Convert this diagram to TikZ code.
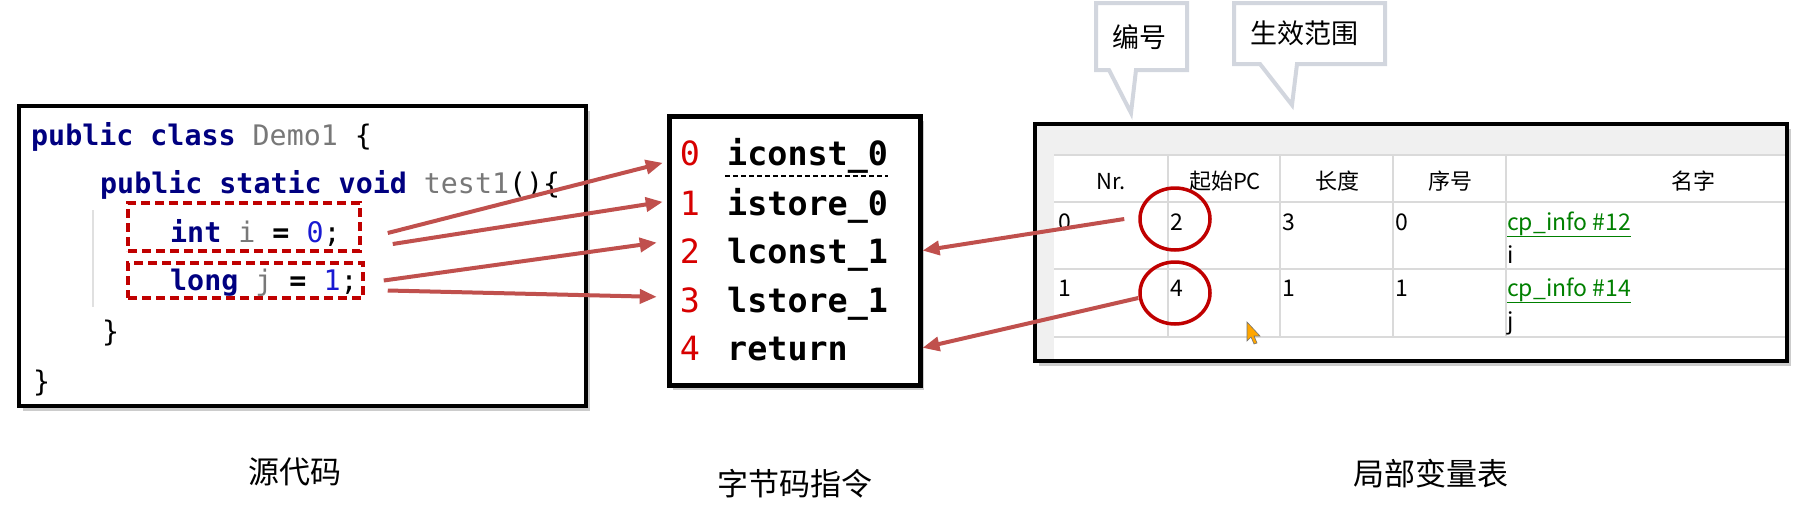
\documentclass[tikz,border=0pt]{standalone}
\usepackage{fontspec}
\setmainfont{Noto Sans CJK SC}
\newfontfamily\codefont{DejaVu Sans Mono}
\usepackage{xcolor}
\usepackage{tikz}
\usetikzlibrary{arrows.meta, calc, positioning, shapes.geometric, shadows}

\definecolor{kwblue}{RGB}{0,0,128}
\definecolor{idgray}{RGB}{120,120,120}
\definecolor{numblue}{RGB}{25,25,210}
\definecolor{opred}{RGB}{215,0,0}
\definecolor{boxred}{RGB}{192,0,0}
\definecolor{arrowred}{RGB}{192,80,77}
\definecolor{tipgray}{RGB}{210,214,222}
\definecolor{gridgray}{RGB}{218,218,218}
\definecolor{panegray}{RGB}{240,240,240}
\definecolor{linkgreen}{RGB}{0,128,0}

\newcommand{\javakw}[1]{{\bfseries\color{kwblue}#1}}

\tikzset{%
    edge/.style={%
        -{Triangle[length=17pt,width=14pt]},
        draw=arrowred,
        line width=4pt,
    },
    panel/.style={%
        rectangle,
        draw=black,
        fill=white,
        line width=3.5pt,
        inner sep=0pt,
        drop shadow={shadow xshift=4pt, shadow yshift=-5pt, opacity=.4},
    },
    codeline/.style={%
        anchor=base west,
        inner sep=0pt,
        font=\codefont\fontsize{28.3}{34}\selectfont,
    },
    declbox/.style={%
        rectangle,
        draw=boxred,
        line width=3.5pt,
        dash pattern=on 9pt off 5pt,
        inner sep=0pt,
    },
    opidx/.style={%
        anchor=base,
        inner sep=0pt,
        text=opred,
        font=\codefont\fontsize{33.4}{40}\selectfont,
    },
    opname/.style={%
        anchor=base west,
        inner sep=0pt,
        font=\codefont\bfseries\fontsize{33.4}{40}\selectfont,
    },
    hint/.style={%
        draw=black,
        line width=1.5pt,
        dash pattern=on 5pt off 3pt,
    },
    cell/.style={%
        anchor=base west,
        inner sep=0pt,
        font=\fontsize{23}{27}\selectfont,
    },
    headcell/.style={%
        anchor=base,
        inner sep=0pt,
        font=\fontsize{22}{26}\selectfont,
    },
    gridline/.style={%
        draw=gridgray,
        line width=1.5pt,
    },
    ring/.style={%
        ellipse,
        draw=boxred,
        line width=3.5pt,
        minimum width=70pt,
        minimum height=62pt,
        inner sep=0pt,
    },
    tip/.style={%
        draw=tipgray,
        fill=white,
        line width=4pt,
        line join=miter,
    },
    caption/.style={%
        font=\fontsize{31}{36}\selectfont,
    },
}

\begin{document}
\begin{tikzpicture}[x=1pt, y=-1pt]
	% \draw[help lines] (0, 0) grid (1793, 506);
	\useasboundingbox (0,0) rectangle (1793,506);

	% source code
	\node [panel, minimum width=567pt, minimum height=300pt] at (302.5,256) (src) {};
	\draw [draw=black!12, line width=1.5pt] (93,210) -- (93,307);
	\node [codeline] at (31,145) (src_l1) {\javakw{public class} {\color{idgray}Demo1} \{};
	\node [codeline] at (100,193) (src_l2) {\javakw{public static void} {\color{idgray}test1}()\{};
	\node [codeline] at (170,242) (src_l3) {\javakw{int} {\color{idgray}i} \textbf{=} {\color{numblue}0};};
	\node [codeline] at (170,290) (src_l4) {\javakw{long} {\color{idgray}j} \textbf{=} {\color{numblue}1};};
	\node [codeline] at (102,341) (src_l5) {\}};
	\node [codeline] at (33,391) (src_l6) {\}};
	\node [declbox, minimum width=232pt, minimum height=48pt] at (244,227) (decl_i) {};
	\node [declbox, minimum width=235pt, minimum height=35pt] at (245.5,280.5) (decl_j) {};

	% bytecode
	\node [panel, line width=5pt, minimum width=251pt, minimum height=269pt] at (794.5,250.5) (bc) {};
	\node [opidx] at (690,165) (idx0) {0};
	\node [opidx] at (690,215) (idx1) {1};
	\node [opidx] at (690,263) (idx2) {2};
	\node [opidx] at (690,312) (idx3) {3};
	\node [opidx] at (690,360) (idx4) {4};
	\node [opname] at (727,165) (ins0) {iconst\_0};
	\node [opname] at (727,215) (ins1) {istore\_0};
	\node [opname] at (727,263) (ins2) {lconst\_1};
	\node [opname] at (727,312) (ins3) {lstore\_1};
	\node [opname] at (727,360) (ins4) {return};
	\draw [hint] ($(ins0.base west)+(-2,11)$) -- ($(ins0.base east)+(0,11)$);

	% local variable table
	\node [panel, fill=panegray, minimum width=752pt, minimum height=237pt] at (1411,242.5) (tbl) {};
	\fill [white] (1054,155) rectangle (1785,359);
	\draw [gridline] (1054,155) -- (1785,155);
	\draw [gridline] (1054,202) -- (1785,202);
	\draw [gridline] (1054,269) -- (1785,269);
	\draw [gridline] (1054,337) -- (1785,337);
	\draw [gridline] (1168,155) -- (1168,337);
	\draw [gridline] (1280,155) -- (1280,337);
	\draw [gridline] (1393,155) -- (1393,337);
	\draw [gridline] (1506,155) -- (1506,337);

	\node [headcell] at (1111,189) (h_nr) {Nr.};
	\node [headcell] at (1225,189) (h_pc) {起始PC};
	\node [headcell] at (1337,189) (h_len) {长度};
	\node [headcell] at (1450,189) (h_idx) {序号};
	\node [headcell] at (1693,189) (h_name) {名字};

	\node [cell] at (1058,230) (r1_nr) {0};
	\node [cell] at (1170,230) (r1_pc) {2};
	\node [cell] at (1282,230) (r1_len) {3};
	\node [cell] at (1395,230) (r1_idx) {0};
	\node [cell, text=linkgreen] at (1507,230) (r1_name) {\underline{cp\_info \#12}};
	\node [cell] at (1507,263) (r1_var) {i};
	\node [cell] at (1058,296) (r2_nr) {1};
	\node [cell] at (1170,296) (r2_pc) {4};
	\node [cell] at (1282,296) (r2_len) {1};
	\node [cell] at (1395,296) (r2_idx) {1};
	\node [cell, text=linkgreen] at (1507,296) (r2_name) {\underline{cp\_info \#14}};
	\node [cell] at (1507,329) (r2_var) {j};

	\node [ring] at (1175,219) (pc_a) {};
	\node [ring] at (1175,293) (pc_b) {};

	% mouse pointer
	\filldraw [fill=orange!70!yellow, draw=black!55, line width=.6pt]
		(1247,322) -- (1247,341) -- (1251,337) -- (1254,344) -- (1257,343) -- (1254,336) -- (1260,336) -- cycle;

	% callouts
	\draw [tip] (1096,3) -- (1187,3) -- (1187,70) -- (1136,70) -- (1131,113) -- (1109,70) -- (1096,70) -- cycle;
	\node [font=\fontsize{27}{30}\selectfont] at (1139,37) (tag_nr) {编号};
	\draw [tip] (1234,3) -- (1385,3) -- (1385,64) -- (1297,64) -- (1292,105) -- (1260,64) -- (1234,64) -- cycle;
	\node [font=\fontsize{27}{30}\selectfont] at (1304,33) (tag_pc) {生效范围};

	% captions
	\node [caption] at (295,472) (cap_src) {源代码};
	\node [caption] at (795,484) (cap_bc) {字节码指令};
	\node [caption] at (1431,474) (cap_tbl) {局部变量表};

	\draw[edge] ($(decl_i.east)+(26,6)$) -- ($(idx0.west)+(-17,10)$);
	\draw[edge] ($(decl_i.east)+(31,17)$) -- ($(idx1.west)+(-17,-1)$);
	\draw[edge] ($(decl_j.east)+(19,0)$) -- ($(idx2.west)+(-23,-8)$);
	\draw[edge] ($(decl_j.east)+(23,10)$) -- ($(idx3.west)+(-23,-3)$);

	\draw[edge] ($(pc_a.west)+(-14,0)$) -- (bc.east |- idx2.west);
	\draw[edge] ($(pc_b.west)+(0,5)$) -- (bc.east |- idx4.west);
\end{tikzpicture}
\end{document}
